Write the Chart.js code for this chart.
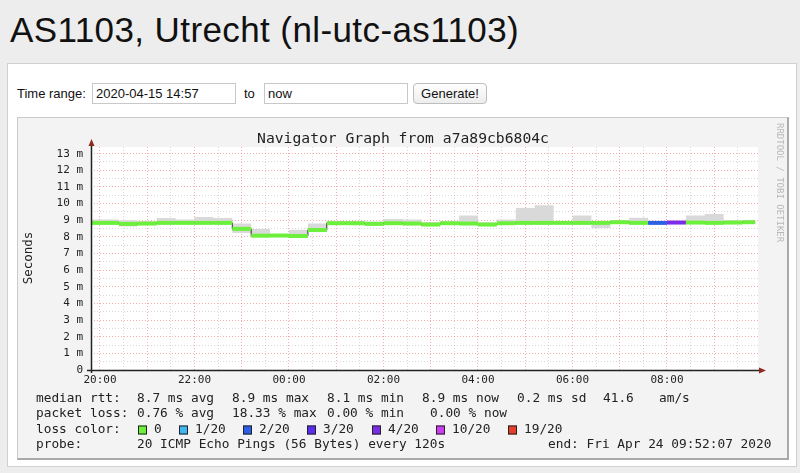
<!DOCTYPE html>
<html lang="en">
  <head>
    <meta charset="UTF-8" />
    <meta name="viewport" content="width=device-width, initial-scale=1.0" />
    <title>AS1103, Utrecht (nl-utc-as1103)</title>
  </head>
  <style>
    * {
      margin: 0;
      padding: 0;
      box-sizing: border-box;
    }
    body {
      width: 800px;
      height: 473px;
      position: relative;
      overflow: hidden;
      background: #ededed;
      font-family: "Liberation Sans", Arial, sans-serif;
    }
    h1 {
      position: absolute;
      left: 10px;
      top: 12px;
      font-size: 35px;
      line-height: 35px;
      font-weight: normal;
      letter-spacing: 0.4px;
      color: #111;
      white-space: nowrap;
    }
    .panel {
      position: absolute;
      left: 7px;
      top: 63px;
      width: 790px;
      height: 404px;
      background: #fff;
      border: 1px solid #d0d0d0;
    }
    .lbl {
      position: absolute;
      top: 86px;
      font-size: 13px;
      line-height: 15px;
      color: #111;
    }
    .field {
      position: absolute;
      top: 83px;
      width: 144px;
      height: 21px;
      border: 1px solid #c8c8c8;
      padding: 0 3px;
      font-family: "Liberation Sans", Arial, sans-serif;
      font-size: 13px;
      color: #111;
      background: #fff;
    }
    .btn {
      position: absolute;
      left: 413px;
      top: 83px;
      width: 74px;
      height: 21px;
      border: 1px solid #bdbdbd;
      border-radius: 4px;
      background: linear-gradient(#fefefe, #ededed);
      font-family: "Liberation Sans", Arial, sans-serif;
      font-size: 13px;
      color: #111;
    }
    .graphBox {
      position: absolute;
      left: 17px;
      top: 117px;
      width: 772px;
      height: 343px;
      background: #f3f3f3;
      border-top: 1px solid #cbcbcb;
      border-left: 1px solid #cbcbcb;
      border-right: 2px solid #a9a9a9;
      border-bottom: 2px solid #a9a9a9;
    }
    #myChart {
      position: absolute;
      left: 17px;
      top: 117px;
    }
  </style>
  <body>
    <h1>AS1103, Utrecht (nl-utc-as1103)</h1>
    <div class="panel"></div>
    <span class="lbl" style="left: 17px">Time range:</span>
    <input class="field" style="left: 92px" value="2020-04-15 14:57" />
    <span class="lbl" style="left: 244px">to</span>
    <input class="field" style="left: 264px" value="now" />
    <button class="btn">Generate!</button>
    <div class="graphBox"></div>
    <canvas id="myChart" width="772" height="343"></canvas>

    <script src="https://cdn.jsdelivr.net/npm/chart.js"></script>

    <script>
      // start of each 24 min step (Apr 23 -> Apr 24)
      const times = [
        "19:36", "20:00", "20:24", "20:48", "21:12", "21:36", "22:00", "22:24", "22:48",
        "23:12", "23:36", "00:00", "00:24", "00:48", "01:12", "01:36", "02:00", "02:24",
        "02:48", "03:12", "03:36", "04:00", "04:24", "04:48", "05:12", "05:36", "06:00",
        "06:24", "06:48", "07:12", "07:36", "08:00", "08:24", "08:48", "09:12", "09:36"
      ];
      const endTime = "09:52";

      // median rtt in ms
      const medians = [
        8.84, 8.84, 8.78, 8.8, 8.84, 8.84, 8.84, 8.84, 8.48,
        8.07, 8.08, 8.05, 8.41, 8.82, 8.82, 8.78, 8.82, 8.8,
        8.74, 8.82, 8.8, 8.74, 8.82, 8.84, 8.84, 8.84, 8.84,
        8.84, 8.88, 8.84, 8.84, 8.86, 8.86, 8.84, 8.86, 8.88
      ];
      // smoke (spread of the 20 pings) in ms
      const smokeLow = [
        8.75, 8.75, 8.62, 8.75, 8.78, 8.8, 8.8, 8.78, 8.23,
        8.0, 8.02, 8.0, 8.35, 8.75, 8.78, 8.7, 8.75, 8.7,
        8.65, 8.75, 8.72, 8.65, 8.75, 8.75, 8.75, 8.78, 8.75,
        8.53, 8.8, 8.78, 8.8, 8.8, 8.8, 8.78, 8.78, 8.82
      ];
      const smokeHigh = [
        9.05, 9.05, 9.0, 8.95, 9.14, 9.05, 9.2, 9.14, 8.8,
        8.47, 8.15, 8.43, 8.8, 8.95, 8.95, 8.92, 9.08, 9.04,
        8.9, 8.92, 9.29, 8.88, 9.04, 9.74, 9.9, 8.92, 9.29,
        8.92, 8.98, 9.15, 8.96, 8.96, 9.29, 9.37, 9.0, 8.98
      ];
      // lost pings out of 20 per step
      const lossSteps = [
        0, 0, 0, 0, 0, 0, 0, 0, 0,
        0, 0, 0, 0, 0, 0, 0, 0, 0,
        0, 0, 0, 0, 0, 0, 0, 0, 0,
        0, 0, 0, 2, 4, 0, 0, 0, 0
      ];

      const lossCounts = [0, 1, 2, 3, 4, 10, 19];
      const lossLabels = ["0", "1/20", "2/20", "3/20", "4/20", "10/20", "19/20"];
      const lossColors = ["#6cf03c", "#40b6f0", "#2a5fe6", "#5a2ef0", "#7a2ce8", "#cc3ef0", "#e6402a"];

      const yTicks = [0, 1, 2, 3, 4, 5, 6, 7, 8, 9, 10, 11, 12, 13];
      const xTicks = ["20:00", "22:00", "00:00", "02:00", "04:00", "06:00", "08:00"];

      // hours after 20:00
      function toHours(t) {
        const [h, m] = t.split(":").map(Number);
        let v = h + m / 60 - 20;
        if (v < -4) v += 24;
        return v;
      }
      function lossColor(n) {
        let c = lossColors[0];
        lossCounts.forEach((cnt, i) => {
          if (n >= cnt) c = lossColors[i];
        });
        return c;
      }

      const xs = times.map(toHours);
      const xEnd = toHours(endTime);

      // each value holds from its start time until the next one
      const stepped = (vals) => {
        const pts = vals.map((v, i) => ({ x: xs[i], y: v }));
        pts.push({ x: xEnd, y: vals[vals.length - 1] });
        return pts;
      };

      // median as separate flat pieces (no coloured risers)
      const medianPieces = [];
      medians.forEach((v, i) => {
        const x1 = i < xs.length - 1 ? xs[i + 1] : xEnd;
        medianPieces.push({ x: xs[i], y: v }, { x: x1, y: v }, { x: x1, y: null });
      });

      const monoFont = '"DejaVu Sans Mono", monospace';

      const data = {
        datasets: [
          {
            label: "smoke low",
            data: stepped(smokeLow),
            stepped: "before",
            borderWidth: 0,
            pointRadius: 0,
            fill: false,
            order: 4
          },
          {
            label: "smoke",
            data: stepped(smokeHigh),
            stepped: "before",
            borderWidth: 0,
            pointRadius: 0,
            backgroundColor: "#d9d9d9",
            fill: "-1",
            order: 3
          },
          {
            label: "median line",
            data: stepped(medians),
            stepped: "before",
            borderColor: "#2a2a2a",
            borderWidth: 1,
            pointRadius: 0,
            fill: false,
            order: 2
          },
          {
            label: "median",
            data: medianPieces,
            borderWidth: 4,
            pointRadius: 0,
            spanGaps: false,
            fill: false,
            order: 1,
            borderColor: lossColors[0],
            segment: {
              borderColor: (ctx) => lossColor(lossSteps[Math.floor(ctx.p0DataIndex / 3)])
            }
          }
        ]
      };

      const gridColor = (ctx) =>
        Number.isInteger(ctx.tick.value) ? "rgba(235, 70, 70, 0.45)" : "rgba(150, 150, 150, 0.38)";

      // white plot area, axes, arrows and the rrdtool style texts
      const rrdPlugin = {
        id: "rrd",
        beforeDraw(chart) {
          const { ctx, chartArea: a } = chart;
          ctx.save();
          ctx.fillStyle = "#ffffff";
          ctx.fillRect(a.left, a.top, a.right - a.left, a.bottom - a.top);
          ctx.restore();
        },
        afterDraw(chart) {
          const { ctx, chartArea: a } = chart;
          ctx.save();

          // axes
          ctx.strokeStyle = "#222";
          ctx.lineWidth = 1.5;
          ctx.beginPath();
          ctx.moveTo(a.left - 4, a.bottom + 0.5);
          ctx.lineTo(a.right + 2, a.bottom + 0.5);
          ctx.moveTo(a.left + 0.5, a.bottom + 3);
          ctx.lineTo(a.left + 0.5, a.top - 2);
          ctx.stroke();

          ctx.fillStyle = "#8e2a20";
          ctx.beginPath();
          ctx.moveTo(a.right + 8, a.bottom + 0.5);
          ctx.lineTo(a.right + 1, a.bottom - 2.5);
          ctx.lineTo(a.right + 1, a.bottom + 3.5);
          ctx.closePath();
          ctx.fill();
          ctx.beginPath();
          ctx.moveTo(a.left + 0.5, a.top - 8);
          ctx.lineTo(a.left - 2.5, a.top - 1);
          ctx.lineTo(a.left + 3.5, a.top - 1);
          ctx.closePath();
          ctx.fill();

          // title
          ctx.fillStyle = "#222";
          ctx.textBaseline = "middle";
          ctx.textAlign = "center";
          ctx.font = "14.7px " + monoFont;
          ctx.fillText("Navigator Graph from a7a89cb6804c", 386, 22);

          // y axis name
          ctx.save();
          ctx.translate(12, 141);
          ctx.rotate(-Math.PI / 2);
          ctx.font = "12.5px " + monoFont;
          ctx.fillText("Seconds", 0, 0);
          ctx.restore();

          // watermark
          ctx.save();
          ctx.translate(762, 6);
          ctx.rotate(Math.PI / 2);
          ctx.textAlign = "left";
          ctx.fillStyle = "#b8b8b8";
          ctx.font = "9px " + monoFont;
          ctx.fillText("RRDTOOL / TOBI OETIKER", 0, 0);
          ctx.restore();

          // legend
          ctx.textAlign = "left";
          ctx.font = "12.8px " + monoFont;
          ctx.fillStyle = "#222";
          const rows = [
            [282, [[19, "median rtt:"], [120, "8.7 ms avg"], [215, "8.9 ms max"], [310, "8.1 ms min"],
                   [405, "8.9 ms now"], [500, "0.2 ms sd"], [586, "41.6"], [642, "am/s"]]],
            [297, [[19, "packet loss:"], [120, "0.76 % avg"], [215, "18.33 % max"], [310, "0.00 % min"],
                   [413, "0.00 % now"]]],
            [313, [[19, "loss color:"]]],
            [328, [[19, "probe:"], [120, "20 ICMP Echo Pings (56 Bytes) every 120s"],
                   [531, "end: Fri Apr 24 09:52:07 2020"]]]
          ];
          rows.forEach(([y, items]) => {
            items.forEach(([x, t]) => ctx.fillText(t, x, y));
          });

          const boxX = [121, 162, 226, 290, 355, 419, 491];
          lossLabels.forEach((lab, i) => {
            ctx.fillStyle = lossColors[i];
            ctx.fillRect(boxX[i], 308.5, 9, 9);
            ctx.strokeStyle = "#222";
            ctx.lineWidth = 1;
            ctx.strokeRect(boxX[i] + 0.5, 309, 8, 8);
            ctx.fillStyle = "#222";
            ctx.fillText(lab, boxX[i] + 16, 313);
          });

          ctx.restore();
        }
      };

      const config = {
        type: "line",
        data,
        options: {
          responsive: false,
          animation: false,
          events: [],
          layout: {
            padding: { top: 30, right: 31, bottom: 70, left: 0 }
          },
          plugins: {
            legend: { display: false },
            tooltip: { enabled: false }
          },
          scales: {
            x: {
              type: "linear",
              min: -0.19,
              max: 13.926,
              afterFit: (scale) => {
                scale.height = 20;
              },
              border: { display: false, dash: [1, 2] },
              grid: { color: gridColor, lineWidth: 1, drawTicks: false },
              ticks: {
                stepSize: 0.5,
                includeBounds: false,
                autoSkip: false,
                maxRotation: 0,
                padding: 4,
                color: "#222",
                font: { family: monoFont, size: 11 },
                callback: (v) => {
                  if (!Number.isInteger(v) || v % 2 !== 0) return "";
                  return xTicks[v / 2] || "";
                }
              }
            },
            y: {
              min: 0,
              max: 13.4,
              afterFit: (scale) => {
                scale.width = 74;
              },
              border: { display: false, dash: [1, 2] },
              grid: { color: gridColor, lineWidth: 1, drawTicks: false },
              ticks: {
                stepSize: 0.5,
                includeBounds: false,
                autoSkip: false,
                padding: 8,
                color: "#222",
                font: { family: monoFont, size: 11 },
                callback: (v) => {
                  if (!yTicks.includes(v)) return "";
                  return v === 0 ? "0" : v + " m";
                }
              }
            }
          }
        },
        plugins: [rrdPlugin]
      };

      const myChart = new Chart(document.getElementById("myChart"), config);
    </script>
  </body>
</html>
